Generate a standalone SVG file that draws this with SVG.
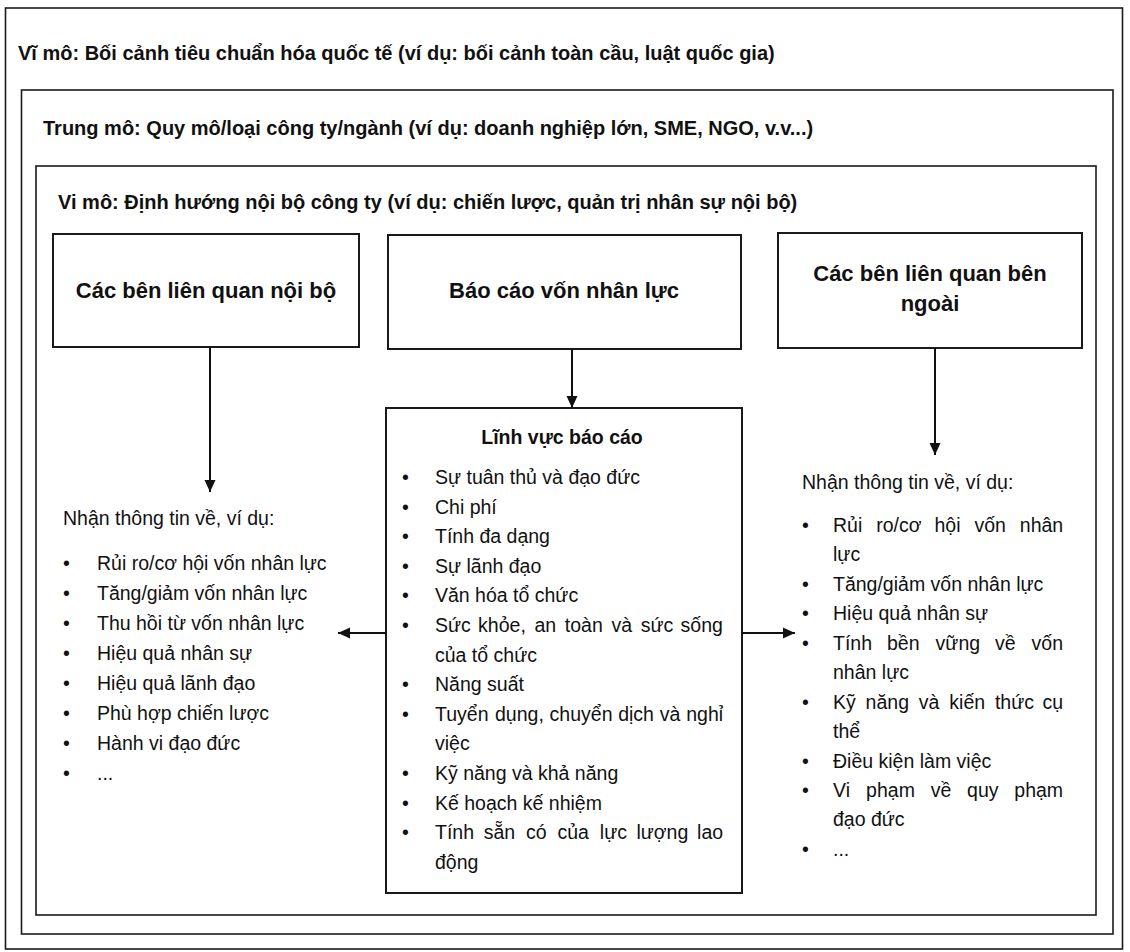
<svg xmlns="http://www.w3.org/2000/svg" width="1130" height="952" viewBox="0 0 1130 952">
<style>
  text { font-family: "Liberation Sans", Arial, sans-serif; fill: #111; }
  .frame { fill: none; stroke: #1a1a1a; stroke-width: 1.6; }
  .box { fill: #fff; stroke: #1a1a1a; stroke-width: 2; }
  .ctx { font-size: 20px; font-weight: bold; }
  .head { font-size: 22px; font-weight: bold; text-anchor: middle; }
  .sub { font-size: 19.5px; font-weight: bold; text-anchor: middle; }
  .li { font-size: 19.5px; }
  .conn { stroke: #111; stroke-width: 2; fill: none; marker-end: url(#arr); }
</style>
<defs>
  <marker id="arr" markerUnits="userSpaceOnUse" markerWidth="12" markerHeight="12" refX="12" refY="6" orient="auto">
    <path d="M0,0.5 L12,6 L0,11.5 z" fill="#111"/>
  </marker>
</defs>
<rect x="0" y="0" width="1130" height="952" fill="#fff"/>

<g id="macro">
  <rect class="frame" x="5.5" y="8" width="1117" height="941"/>
  <text class="ctx" x="18" y="60">Vĩ mô: Bối cảnh tiêu chuẩn hóa quốc tế (ví dụ: bối cảnh toàn cầu, luật quốc gia)</text>
</g>
<g id="meso">
  <rect class="frame" x="21.5" y="90" width="1091.5" height="844"/>
  <text class="ctx" x="43" y="135">Trung mô: Quy mô/loại công ty/ngành (ví dụ: doanh nghiệp lớn, SME, NGO, v.v...)</text>
</g>
<g id="micro">
  <rect class="frame" x="36" y="166" width="1060" height="749"/>
  <text class="ctx" x="58" y="209">Vi mô: Định hướng nội bộ công ty (ví dụ: chiến lược, quản trị nhân sự nội bộ)</text>
</g>

<g id="node-internal">
  <rect class="box" x="53" y="234" width="306" height="113"/>
  <text class="head" x="206" y="298">Các bên liên quan nội bộ</text>
</g>
<g id="node-report">
  <rect class="box" x="388" y="235" width="353" height="114"/>
  <text class="head" x="564" y="298">Báo cáo vốn nhân lực</text>
</g>
<g id="node-external">
  <rect class="box" x="778" y="233" width="304" height="115"/>
  <text class="head" x="930" y="281">Các bên liên quan bên</text>
  <text class="head" x="930" y="311">ngoài</text>
</g>

<g id="node-areas">
  <rect class="box" x="386" y="408" width="356" height="485"/>
  <text class="sub" x="562" y="444">Lĩnh vực báo cáo</text>
  <g class="li">
    <text x="402" y="484">•</text><text x="435" y="484">Sự tuân thủ và đạo đức</text>
    <text x="402" y="514">•</text><text x="435" y="514">Chi phí</text>
    <text x="402" y="543">•</text><text x="435" y="543">Tính đa dạng</text>
    <text x="402" y="573">•</text><text x="435" y="573">Sự lãnh đạo</text>
    <text x="402" y="602">•</text><text x="435" y="602">Văn hóa tổ chức</text>
    <text x="402" y="632">•</text><text y="632"><tspan x="435">Sức</tspan><tspan x="478.1">khỏe,</tspan><tspan x="534.5">an</tspan><tspan x="564.8">toàn</tspan><tspan x="611.4">và</tspan><tspan x="640.7">sức</tspan><tspan x="680.6">sống</tspan></text>
    <text x="435" y="662">của tổ chức</text>
    <text x="402" y="691">•</text><text x="435" y="691">Năng suất</text>
    <text x="402" y="721">•</text><text y="721"><tspan x="435">Tuyển</tspan><tspan x="495">dụng,</tspan><tspan x="549.6">chuyển</tspan><tspan x="618.2">dịch</tspan><tspan x="659.8">và</tspan><tspan x="686.2">nghỉ</tspan></text>
    <text x="435" y="750">việc</text>
    <text x="402" y="780">•</text><text x="435" y="780">Kỹ năng và khả năng</text>
    <text x="402" y="810">•</text><text x="435" y="810">Kế hoạch kế nhiệm</text>
    <text x="402" y="839">•</text><text y="839"><tspan x="435">Tính</tspan><tspan x="483.7">sẵn</tspan><tspan x="526">có</tspan><tspan x="557.5">của</tspan><tspan x="599.8">lực</tspan><tspan x="636.4">lượng</tspan><tspan x="697.1">lao</tspan></text>
    <text x="435" y="869">động</text>
  </g>
</g>

<g id="list-internal" class="li">
  <text x="63" y="525">Nhận thông tin về, ví dụ:</text>
  <text x="63" y="570">•</text><text x="97" y="570">Rủi ro/cơ hội vốn nhân lực</text>
  <text x="63" y="600">•</text><text x="97" y="600">Tăng/giảm vốn nhân lực</text>
  <text x="63" y="630">•</text><text x="97" y="630">Thu hồi từ vốn nhân lực</text>
  <text x="63" y="660">•</text><text x="97" y="660">Hiệu quả nhân sự</text>
  <text x="63" y="690">•</text><text x="97" y="690">Hiệu quả lãnh đạo</text>
  <text x="63" y="720">•</text><text x="97" y="720">Phù hợp chiến lược</text>
  <text x="63" y="750">•</text><text x="97" y="750">Hành vi đạo đức</text>
  <text x="63" y="780">•</text><text x="97" y="780">...</text>
</g>

<g id="list-external" class="li">
  <text x="802" y="489">Nhận thông tin về, ví dụ:</text>
  <text x="802" y="532">•</text><text y="532"><tspan x="833">Rủi</tspan><tspan x="876.2">ro/cơ</tspan><tspan x="934.5">hội</tspan><tspan x="974.4">vốn</tspan><tspan x="1019.8">nhân</tspan></text>
  <text x="833" y="561">lực</text>
  <text x="802" y="591">•</text><text x="833" y="591">Tăng/giảm vốn nhân lực</text>
  <text x="802" y="620">•</text><text x="833" y="620">Hiệu quả nhân sự</text>
  <text x="802" y="650">•</text><text y="650"><tspan x="833">Tính</tspan><tspan x="887">bền</tspan><tspan x="935.6">vững</tspan><tspan x="994.9">về</tspan><tspan x="1031.6">vốn</tspan></text>
  <text x="833" y="679">nhân lực</text>
  <text x="802" y="709">•</text><text y="709"><tspan x="833">Kỹ</tspan><tspan x="865.6">năng</tspan><tspan x="918.8">và</tspan><tspan x="949.3">kiến</tspan><tspan x="994.9">thức</tspan><tspan x="1042.5">cụ</tspan></text>
  <text x="833" y="738">thể</text>
  <text x="802" y="768">•</text><text x="833" y="768">Điều kiện làm việc</text>
  <text x="802" y="797">•</text><text y="797"><tspan x="833">Vi</tspan><tspan x="866.1">phạm</tspan><tspan x="930.7">về</tspan><tspan x="967.1">quy</tspan><tspan x="1014.3">phạm</tspan></text>
  <text x="833" y="826">đạo đức</text>
  <text x="802" y="856">•</text><text x="833" y="856">...</text>
</g>

<g id="connectors">
  <line class="conn" x1="210" y1="347" x2="210" y2="492"/>
  <line class="conn" x1="572" y1="349" x2="572" y2="408"/>
  <line class="conn" x1="935" y1="348" x2="935" y2="455"/>
  <line class="conn" x1="386" y1="633" x2="338" y2="633"/>
  <line class="conn" x1="742" y1="633" x2="795" y2="633"/>
</g>
</svg>
